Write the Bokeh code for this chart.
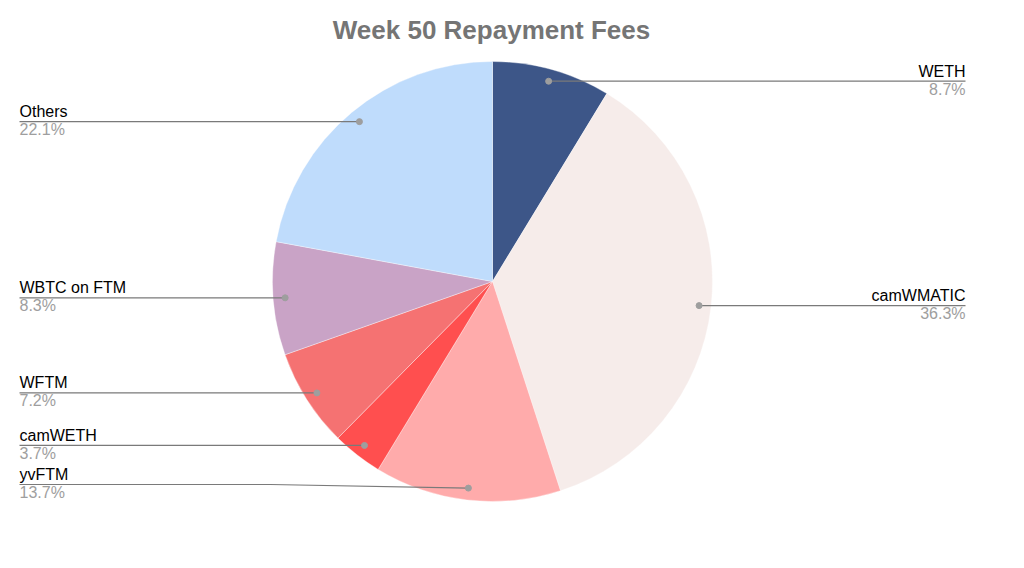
import math
from bokeh.plotting import figure
from bokeh.models import Range1d, ColumnDataSource
from bokeh.core.properties import value
from bokeh.embed import file_html
from bokeh.resources import INLINE

# ---- data ----
categories = ["WETH", "camWMATIC", "yvFTM", "camWETH", "WFTM", "WBTC on FTM", "Others"]
shares = [8.7, 36.3, 13.7, 3.7, 7.2, 8.3, 22.1]
colors = ["#3d5688", "#f6ecea", "#ffabab", "#ff4f4f", "#f57272", "#c9a3c6", "#bfdcfc"]
title_text = "Week 50 Repayment Fees"

# ---- layout (screen pixels) ----
W, H = 1008, 552
CX, CY = 492, 281          # pie centre (screen)
R = 220                    # pie radius
DOT_R = 208                # distance of leader dot from centre
LEFT_X, RIGHT_X = 19, 965  # label anchors
LEFT_KNEE, RIGHT_KNEE = 270, 714
LABEL_BOTTOM = 484

def ys(sy):
    return 568 - sy

p = figure(width=W, height=H, output_backend="svg", toolbar_location=None,
           x_range=Range1d(0, W), y_range=Range1d(568 - H, 568), min_border=0)
p.axis.visible = False
p.grid.visible = False
p.outline_line_color = None
p.background_fill_color = "white"

total = sum(shares)
starts, ends, mids = [], [], []
cum = 0.0
for s in shares:
    a0 = cum / total
    cum += s
    a1 = cum / total
    starts.append(math.pi / 2 - 2 * math.pi * a0)
    ends.append(math.pi / 2 - 2 * math.pi * a1)
    mids.append((a0 + a1) / 2)

src = ColumnDataSource(dict(start=starts, end=ends, color=colors, cat=categories))
p.wedge(x=CX, y=ys(CY), radius=R, start_angle="start", end_angle="end",
        direction="clock", fill_color="color", line_color="white",
        line_width=0.6, line_alpha=0.6, source=src)

font = value("Liberation Sans")
for cat, s, m in zip(categories, shares, mids):
    ang = 2 * math.pi * m
    dx = DOT_R * math.sin(ang)
    dy = DOT_R * math.cos(ang)
    dot_x, dot_y = CX + dx, CY - dy
    label_y = min(dot_y, LABEL_BOTTOM)
    if dx >= 0:
        lx, knee, align = RIGHT_X, RIGHT_KNEE, "right"
    else:
        lx, knee, align = LEFT_X, LEFT_KNEE, "left"
    p.line([lx, knee, dot_x], [ys(label_y), ys(label_y), ys(dot_y)],
           line_color="#7a7a7a", line_width=1.2)
    p.scatter([dot_x], [ys(dot_y)], size=6, fill_color="#9e9e9e",
              line_color="#9e9e9e")
    p.text([lx], [ys(label_y - 10)], text=[cat], text_font=font,
           text_font_size="16px", text_color="#000000", text_align=align,
           text_baseline="alphabetic")
    p.text([lx], [ys(label_y + 8)], text=[f"{s:.1f}%"], text_font=font,
           text_font_size="16px", text_color="#9e9e9e", text_align=align,
           text_baseline="alphabetic")

p.text([491], [ys(29)], text=[title_text], text_font=font,
       text_font_size="26px", text_font_style="bold", text_color="#757575",
       text_align="center", text_baseline="alphabetic")

open("out.html", "w").write(file_html(p, INLINE))
